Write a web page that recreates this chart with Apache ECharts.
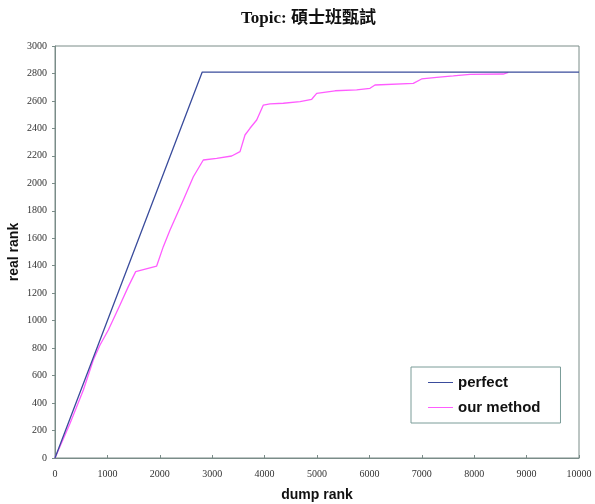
<!DOCTYPE html>
<html>
<head>
<meta charset="utf-8">
<script src="https://cdn.jsdelivr.net/npm/echarts@6/dist/echarts.min.js"></script>
<style>
  html, body { margin: 0; padding: 0; background: #fff; }
  #chart { width: 595px; height: 504px; }
</style>
</head>
<body>
<div id="chart"></div>
<script>
const perfectX = [0, 2810, 10000];
const perfectY = [0, 2810, 2810];

const methodX = [0, 286, 541, 731, 859, 1018, 1240, 1399, 1540, 1940, 2067, 2195, 2449, 2640, 2830, 3085, 3372, 3531, 3626, 3721, 3849, 3976, 4103, 4357, 4676, 4899, 4994, 5344, 5757, 6011, 6107, 6838, 6996, 7284, 7601, 7920, 8555, 8651];
const methodY = [0, 252, 495, 714, 823, 932, 1114, 1248, 1357, 1398, 1539, 1660, 1879, 2048, 2170, 2182, 2199, 2231, 2352, 2401, 2461, 2570, 2578, 2583, 2595, 2612, 2655, 2674, 2680, 2692, 2716, 2728, 2760, 2772, 2782, 2794, 2796, 2808];

const pairs = (xs, ys) => xs.map((x, i) => [x, ys[i]]);

const axisColor = "#7a8c88";
const tickFont = {
  fontFamily: "Liberation Serif",
  fontSize: 10,
  color: "#333",
  formatter: (v) => String(v),
};

const chart = echarts.init(document.getElementById("chart"), null, { renderer: "canvas" });
chart.setOption({
  animation: false,
  backgroundColor: "#fff",
  title: {
    text: "Topic: 碩士班甄試",
    left: 236,
    top: 5,
    textStyle: { fontFamily: "Liberation Serif, Noto Sans CJK TC", fontSize: 17, fontWeight: "bold", color: "#111" },
  },
  grid: {
    left: 55,
    right: 16,
    top: 46,
    bottom: 46,
    outerBoundsMode: "none",
    containLabel: false,
    show: true,
    borderColor: axisColor,
    borderWidth: 1,
  },
  legend: {
    orient: "vertical",
    left: 411,
    top: 367,
    padding: [8, 20, 8, 17],
    itemGap: 10,
    borderColor: "#7a9c98",
    borderWidth: 1,
    icon: "rect",
    itemWidth: 25,
    itemHeight: 1,
    textStyle: { fontFamily: "Liberation Sans", fontSize: 15, fontWeight: "bold", color: "#111" },
    data: ["perfect", "our method"],
  },
  xAxis: {
    type: "value",
    min: 0,
    max: 10000,
    interval: 1000,
    name: "dump rank",
    nameLocation: "middle",
    nameGap: 30,
    nameMoveOverlap: false,
    nameTextStyle: { fontFamily: "Liberation Sans", fontSize: 14, fontWeight: "bold", color: "#111" },
    axisLine: { show: true, lineStyle: { color: axisColor } },
    axisTick: { show: true, inside: true, length: 3, lineStyle: { color: axisColor } },
    axisLabel: Object.assign({ margin: 11 }, tickFont),
    splitLine: { show: false },
  },
  yAxis: {
    type: "value",
    min: 0,
    max: 3000,
    interval: 200,
    name: "real rank",
    nameLocation: "middle",
    nameGap: 34,
    nameMoveOverlap: false,
    nameTextStyle: { fontFamily: "Liberation Sans", fontSize: 14, fontWeight: "bold", color: "#111" },
    axisLine: { show: true, lineStyle: { color: axisColor } },
    axisTick: { show: true, length: 3, lineStyle: { color: axisColor } },
    axisLabel: Object.assign({ margin: 8 }, tickFont),
    splitLine: { show: false },
  },
  series: [
    {
      name: "our method",
      type: "line",
      data: pairs(methodX, methodY),
      symbol: "none",
      lineStyle: { color: "#ff5cff", width: 1.3 },
      itemStyle: { color: "#ff5cff" },
      z: 2,
    },
    {
      name: "perfect",
      type: "line",
      data: pairs(perfectX, perfectY),
      symbol: "none",
      lineStyle: { color: "#3a4c9c", width: 1.3 },
      itemStyle: { color: "#3a4c9c" },
      z: 3,
    },
  ],
});
</script>
</body>
</html>
